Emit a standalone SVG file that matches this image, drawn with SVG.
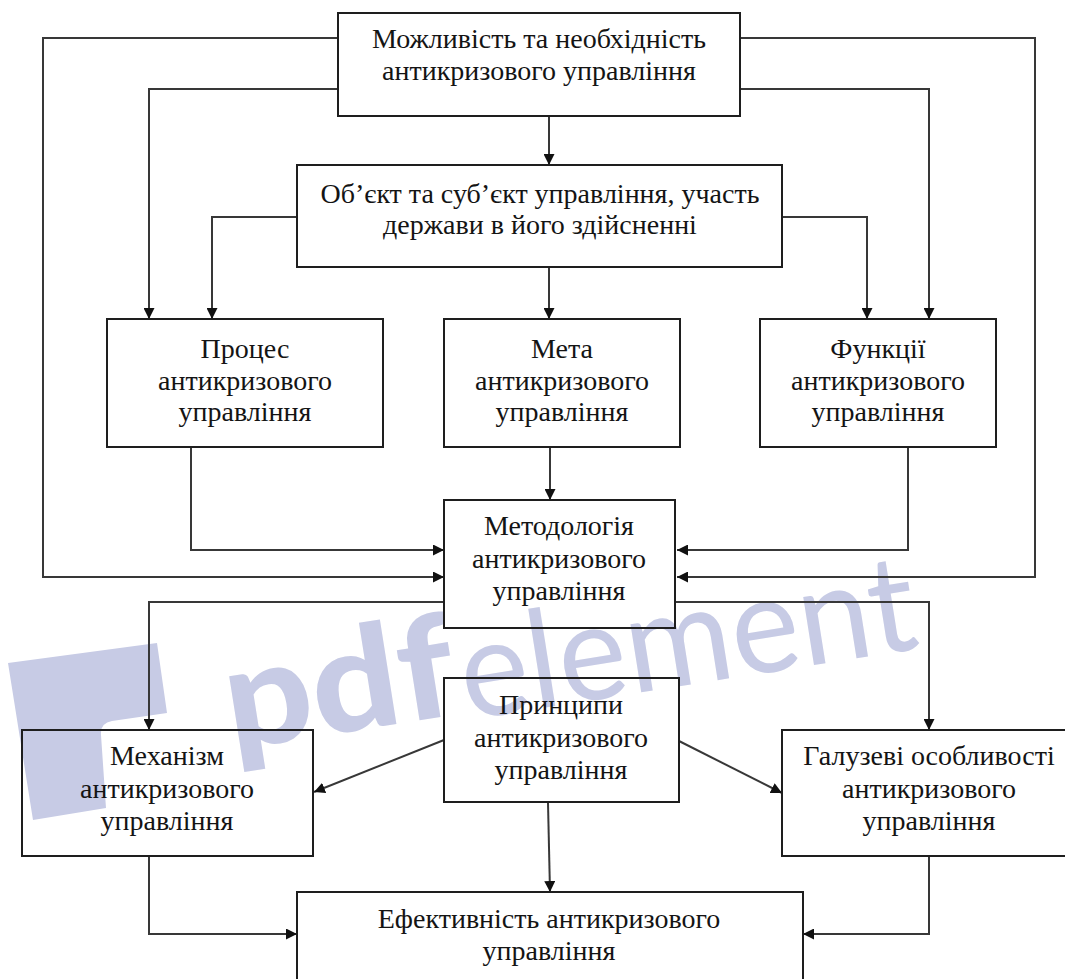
<svg xmlns="http://www.w3.org/2000/svg" width="1065" height="979" viewBox="0 0 1065 979">
<style>
.box{fill:none;stroke:#1e1e1e;stroke-width:2}
.c{fill:none;stroke:#383838;stroke-width:2}
.wm{fill:#c7cbe5}
</style>
<defs>
<marker id="arr" markerUnits="userSpaceOnUse" markerWidth="11" markerHeight="11" refX="11" refY="5.5" orient="auto">
<path d="M0,0 L11,5.5 L0,11 Z" fill="#111"/>
</marker>
</defs>
<rect width="1065" height="979" fill="#fff"/>
<g id="watermark">
<path class="wm" d="M8,663 L157,643 L167,713 L112,721 Q100,723 101,735 L106,808 L33,820 Z"/>
<text class="wm" x="232" y="750" transform="rotate(-9 232 750)" font-family="Lato, 'Liberation Sans', sans-serif" font-weight="900" font-size="142" textLength="231" lengthAdjust="spacingAndGlyphs">pdf</text>
<text class="wm" x="467" y="720" transform="rotate(-9 467 720)" font-family="Lato, 'Liberation Sans', sans-serif" font-weight="400" font-size="136" textLength="460" lengthAdjust="spacingAndGlyphs">element</text>
</g>
<g id="connectors">
<path class="c" d="M549,116 V165" marker-end="url(#arr)"/>
<path class="c" d="M338,38 H43 V577 H444" marker-end="url(#arr)"/>
<path class="c" d="M338,89 H149 V319" marker-end="url(#arr)"/>
<path class="c" d="M740,38 H1035 V577 H677" marker-end="url(#arr)"/>
<path class="c" d="M740,89 H929 V319" marker-end="url(#arr)"/>
<path class="c" d="M297,217 H212 V319" marker-end="url(#arr)"/>
<path class="c" d="M782,217 H867 V319" marker-end="url(#arr)"/>
<path class="c" d="M549,267 V319" marker-end="url(#arr)"/>
<path class="c" d="M191,447 V550 H444" marker-end="url(#arr)"/>
<path class="c" d="M550,447 V500" marker-end="url(#arr)"/>
<path class="c" d="M908,447 V550 H677" marker-end="url(#arr)"/>
<path class="c" d="M444,602 H149 V730" marker-end="url(#arr)"/>
<path class="c" d="M675,602 H929 V730" marker-end="url(#arr)"/>
<path class="c" d="M444,740 L314,792" marker-end="url(#arr)"/>
<path class="c" d="M679,741 L782,793" marker-end="url(#arr)"/>
<path class="c" d="M548,803 L550,892" marker-end="url(#arr)"/>
<path class="c" d="M149,856 V934 H297" marker-end="url(#arr)"/>
<path class="c" d="M929,856 V934 H803" marker-end="url(#arr)"/>
</g>
<g font-family="'Liberation Serif', 'DejaVu Serif', serif" font-size="28" fill="#141414" text-anchor="middle">
<g id="n-top">
<rect class="box" x="338" y="13" width="402" height="103"/>
<text x="539" y="48">Можливість та необхідність</text>
<text x="539" y="80">антикризового управління</text>
</g>
<g id="n-object">
<rect class="box" x="297" y="165" width="485" height="102"/>
<text x="540" y="203">Об’єкт та суб’єкт управління, участь</text>
<text x="540" y="234">держави в його здійсненні</text>
</g>
<g id="n-process">
<rect class="box" x="107" y="319" width="276" height="128"/>
<text x="245" y="358">Процес</text>
<text x="245" y="390">антикризового</text>
<text x="245" y="421">управління</text>
</g>
<g id="n-goal">
<rect class="box" x="444" y="319" width="236" height="128"/>
<text x="562" y="358">Мета</text>
<text x="562" y="390">антикризового</text>
<text x="562" y="421">управління</text>
</g>
<g id="n-functions">
<rect class="box" x="760" y="319" width="236" height="128"/>
<text x="878" y="358">Функції</text>
<text x="878" y="390">антикризового</text>
<text x="878" y="421">управління</text>
</g>
<g id="n-method">
<rect class="box" x="444" y="500" width="231" height="128"/>
<text x="559" y="535">Методологія</text>
<text x="559" y="568">антикризового</text>
<text x="559" y="600">управління</text>
</g>
<g id="n-principles">
<rect class="box" x="444" y="678" width="235" height="124"/>
<text x="561" y="714">Принципи</text>
<text x="561" y="747">антикризового</text>
<text x="561" y="779">управління</text>
</g>
<g id="n-mechanism">
<rect class="box" x="22" y="730" width="291" height="126"/>
<text x="167" y="765">Механізм</text>
<text x="167" y="798">антикризового</text>
<text x="167" y="830">управління</text>
</g>
<g id="n-branch">
<rect class="box" x="782" y="730" width="294" height="126"/>
<text x="929" y="765">Галузеві особливості</text>
<text x="929" y="798">антикризового</text>
<text x="929" y="830">управління</text>
</g>
<g id="n-efficiency">
<rect class="box" x="297" y="892" width="506" height="100"/>
<text x="549" y="928">Ефективність антикризового</text>
<text x="549" y="960">управління</text>
</g>
</g>
</svg>
